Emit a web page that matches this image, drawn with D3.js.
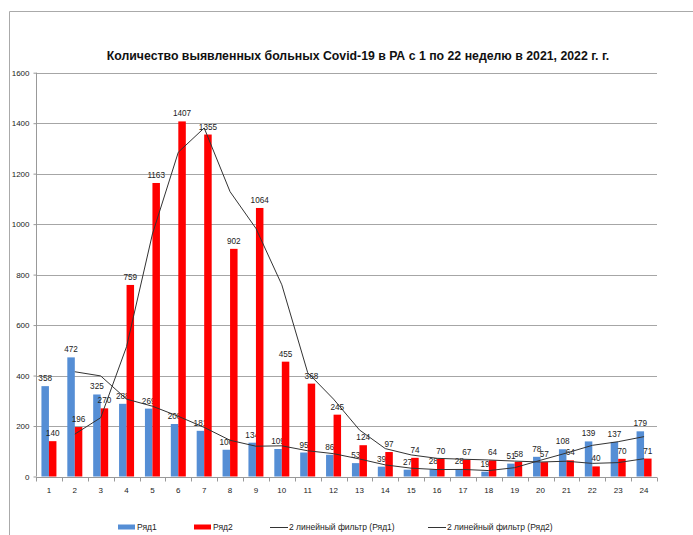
<!DOCTYPE html>
<html>
<head>
<meta charset="utf-8">
<script src="https://cdn.jsdelivr.net/npm/d3@7"></script>
<style>
  body { margin: 0; background: #fff; }
  text { font-family: "Liberation Sans", Arial, sans-serif; }
</style>
</head>
<body>
<div id="chart"></div>
<script>
// weeks 1..24
var weeks = d3.range(1, 25).map(String);
var series1 = [358, 472, 325, 288, 269, 208, 181, 106, 134, 109, 95, 86, 53, 39, 27, 28, 28, 19, 51, 78, 108, 139, 137, 179];
var series2 = [140, 196, 270, 759, 1163, 1407, 1355, 902, 1064, 455, 368, 245, 124, 97, 74, 70, 67, 64, 58, 57, 64, 40, 70, 71];
var seriesNames = ["Ряд1", "Ряд2"];
var trendNames = ["2 линейный фильтр (Ряд1)", "2 линейный фильтр (Ряд2)"];
var yTicks = [0, 200, 400, 600, 800, 1000, 1200, 1400, 1600];
var title = "Количество выявленных больных Covid-19 в РА с 1 по 22 неделю в 2021, 2022 г. г.";

var width = 693, height = 535;
var colors = ["#558ED5", "#FF0000"];

var svg = d3.select("#chart")
  .append("svg")
  .attr("width", width)
  .attr("height", height);

// chart area frame (only top and left edges are visible in the picture)
svg.append("path")
  .attr("d", "M9.5," + height + "V11.5H" + width)
  .attr("fill", "none")
  .attr("stroke", "#aaa");

svg.append("text")
  .attr("x", 358)
  .attr("y", 60)
  .attr("text-anchor", "middle")
  .style("font-weight", "bold")
  .style("font-size", "12.3px")
  .style("fill", "#111")
  .text(title);

var plotLeft = 36, plotRight = 657, plotTop = 72.7, plotBottom = 476.5;

var x0 = d3.scaleBand()
  .domain(weeks)
  .range([plotLeft, plotRight])
  .padding(0);

var x1 = d3.scaleBand()
  .domain(seriesNames)
  .range([0, x0.bandwidth()])
  .paddingInner(0)
  .paddingOuter(0.725);

var y = d3.scaleLinear()
  .domain([0, 1600])
  .range([plotBottom, plotTop]);

// gridlines
svg.append("g")
  .selectAll("line")
  .data(yTicks.slice(1))
  .enter()
  .append("line")
  .attr("x1", plotLeft)
  .attr("x2", plotRight)
  .attr("y1", function (d) { return Math.round(y(d)) + 0.5; })
  .attr("y2", function (d) { return Math.round(y(d)) + 0.5; })
  .attr("stroke", "#a6a6a6");

// y axis
var yAxis = svg.append("g")
  .attr("transform", "translate(" + (plotLeft + 0.5) + ",0)")
  .call(d3.axisLeft(y).tickValues(yTicks).tickFormat(d3.format("d")).tickSize(3).tickPadding(4));
yAxis.selectAll("text").style("font-size", "8px").style("fill", "#222");
yAxis.selectAll("line, path").attr("stroke", "#999");
yAxis.select(".domain").attr("d", "M0," + plotTop + "V" + plotBottom);

// x axis: ticks sit between categories like Excel
var xAxis = svg.append("g")
  .attr("transform", "translate(0," + (Math.round(plotBottom) + 0.5) + ")");
xAxis.append("line")
  .attr("x1", plotLeft)
  .attr("x2", plotRight)
  .attr("stroke", "#999");
xAxis.selectAll(".tk")
  .data(weeks.concat(["end"]))
  .enter()
  .append("line")
  .attr("class", "tk")
  .attr("x1", function (d, i) { return Math.round(plotLeft + i * x0.step()) + 0.5; })
  .attr("x2", function (d, i) { return Math.round(plotLeft + i * x0.step()) + 0.5; })
  .attr("y2", 4)
  .attr("stroke", "#999");
xAxis.selectAll(".lbl")
  .data(weeks)
  .enter()
  .append("text")
  .attr("class", "lbl")
  .attr("x", function (d) { return x0(d) + x0.bandwidth() / 2; })
  .attr("y", 15)
  .attr("text-anchor", "middle")
  .style("font-size", "8px")
  .style("fill", "#222")
  .text(function (d) { return d; });

// bars
var allSeries = [series1, series2];
var groups = svg.append("g")
  .selectAll("g")
  .data(seriesNames)
  .enter()
  .append("g")
  .attr("fill", function (d, i) { return colors[i]; });

groups.selectAll("rect")
  .data(function (name, si) {
    return allSeries[si].map(function (v, i) { return { name: name, week: weeks[i], value: v }; });
  })
  .enter()
  .append("rect")
  .attr("x", function (d) { return x0(d.week) + x1(d.name); })
  .attr("width", x1.bandwidth())
  .attr("y", function (d) { return y(d.value); })
  .attr("height", function (d) { return plotBottom - y(d.value); });

// moving average with period 2 (trendline)
function movingAvg(values) {
  var out = [];
  for (var i = 1; i < values.length; i++) {
    out.push({ week: weeks[i], value: d3.mean([values[i - 1], values[i]]) });
  }
  return out;
}

var line = d3.line()
  .x(function (d) { return x0(d.week) + x0.bandwidth() / 2; })
  .y(function (d) { return y(d.value); });

svg.append("g")
  .selectAll("path")
  .data(allSeries.map(movingAvg))
  .enter()
  .append("path")
  .attr("d", line)
  .attr("fill", "none")
  .attr("stroke", "#333")
  .attr("stroke-width", 1);

// value labels
groups.selectAll("text")
  .data(function (name, si) {
    return allSeries[si].map(function (v, i) { return { name: name, week: weeks[i], value: v }; });
  })
  .enter()
  .append("text")
  .attr("x", function (d) { return x0(d.week) + x1(d.name) + x1.bandwidth() / 2; })
  .attr("y", function (d) { return y(d.value) - 5; })
  .attr("text-anchor", "middle")
  .style("font-size", "8.2px")
  .style("fill", "#222")
  .text(function (d) { return d.value; });

// legend
var legendY = 527;
var legendItems = [
  { label: seriesNames[0], x: 118, type: "rect", color: colors[0] },
  { label: seriesNames[1], x: 194, type: "rect", color: colors[1] },
  { label: trendNames[0], x: 270, type: "line", color: "#333" },
  { label: trendNames[1], x: 428, type: "line", color: "#333" }
];

var legend = svg.selectAll(".legend")
  .data(legendItems)
  .enter()
  .append("g")
  .attr("class", "legend")
  .attr("transform", function (d) { return "translate(" + d.x + "," + legendY + ")"; });

legend.filter(function (d) { return d.type === "rect"; })
  .append("rect")
  .attr("y", -2.5)
  .attr("width", 17)
  .attr("height", 5)
  .attr("fill", function (d) { return d.color; });

legend.filter(function (d) { return d.type === "line"; })
  .append("line")
  .attr("x2", 18)
  .attr("y1", 0.5)
  .attr("y2", 0.5)
  .attr("stroke", function (d) { return d.color; });

legend.append("text")
  .attr("x", 19)
  .attr("y", 3)
  .style("font-size", "8.5px")
  .style("fill", "#222")
  .text(function (d) { return d.label; });
</script>
</body>
</html>
